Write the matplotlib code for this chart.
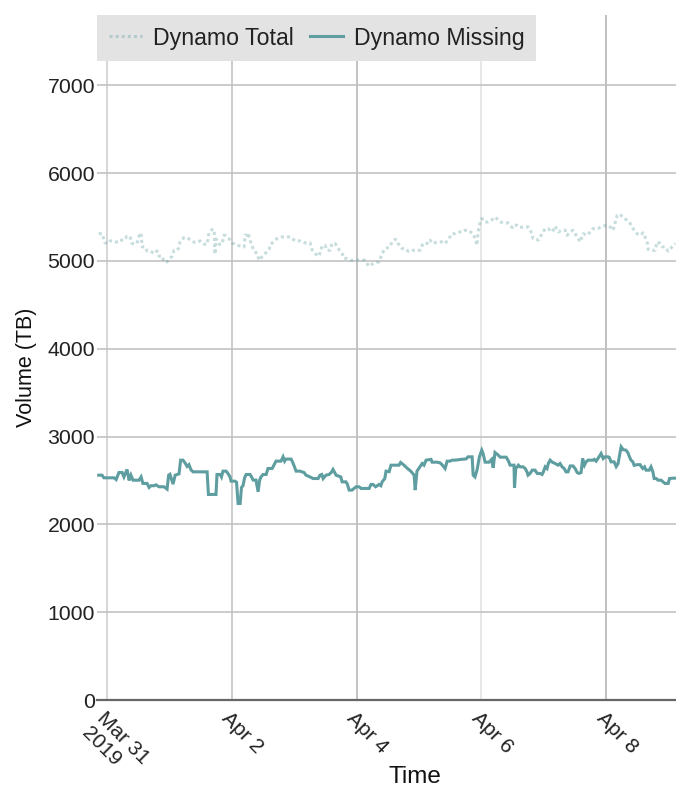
import matplotlib
matplotlib.use("Agg")
import matplotlib.pyplot as plt
import pandas as pd

# ---- data (hours after 2019-03-31 00:00, volume in TB) ----
total_hours = [-3.2, -1.9, -1.3, -0.8, 0.8, 1.2, 1.9, 3.1, 4.6, 5.0, 6.5, 7.7, 8.8, 9.6, 11.5, 12.3, 13.1, 13.5,
               14.6, 15.4, 16.5, 18.1, 19.2, 20.0, 21.2, 21.9, 23.1, 23.8, 25.0, 25.8, 26.9, 27.7, 28.1, 29.6,
               30.8, 31.9, 33.5, 34.6, 35.8, 37.3, 38.5, 39.2, 40.4, 41.2, 41.5, 41.9, 43.1, 44.2, 45.0, 45.4,
               46.9, 48.1, 50.0, 52.7, 53.1, 53.8, 54.2, 55.0, 55.4, 56.5, 57.7, 58.5, 59.6, 60.8, 62.3, 62.7,
               64.2, 65.4, 67.3, 70.4, 72.3, 74.2, 76.2, 78.1, 78.8, 80.0, 81.5, 82.7, 83.8, 84.6, 85.8, 86.5,
               87.7, 89.2, 90.4, 91.2, 92.3, 93.5, 95.4, 96.9, 99.2, 100.0, 100.8, 102.7, 104.6, 105.8, 106.9,
               108.8, 109.6, 110.8, 111.5, 111.9, 113.5, 114.6, 115.8, 117.3, 117.7, 120.4, 121.5, 123.1, 123.5,
               124.2, 125.4, 126.9, 128.8, 130.0, 131.2, 132.7, 133.8, 135.0, 136.9, 137.7, 138.8, 140.8, 141.5,
               142.3, 142.7, 143.5, 144.2, 145.4, 146.5, 148.1, 149.2, 151.2, 153.1, 154.2, 155.8, 156.2, 157.7,
               158.8, 160.0, 161.9, 163.5, 163.8, 164.6, 165.8, 167.3, 168.5, 169.6, 171.2, 172.3, 173.5, 175.0,
               176.2, 176.9, 178.1, 179.2, 180.8, 181.9, 183.1, 184.6, 185.8, 186.9, 188.8, 190.4, 192.3, 193.5,
               194.6, 196.2, 197.3, 198.5, 200.0, 201.2, 202.3, 203.8, 205.0, 206.2, 207.7, 208.1, 209.6, 210.8,
               211.5, 212.7, 213.5, 214.6, 215.8, 217.3, 218.5]
total_values = [5310, 5310, 5254, 5205, 5205, 5228, 5228, 5216, 5216, 5236, 5236, 5281, 5281, 5198, 5198, 5281, 5319, 5160,
                5160, 5114, 5114, 5084, 5114, 5053, 5053, 4989, 4989, 5015, 5053, 5121, 5121, 5152, 5216, 5266,
                5266, 5243, 5212, 5212, 5228, 5190, 5190, 5319, 5357, 5357, 5076, 5250, 5190, 5190, 5292, 5292,
                5254, 5205, 5178, 5160, 5292, 5292, 5319, 5240, 5198, 5114, 5084, 5008, 5046, 5084, 5129, 5178,
                5228, 5254, 5273, 5273, 5228, 5228, 5205, 5205, 5129, 5084, 5053, 5167, 5178, 5121, 5121, 5198,
                5198, 5129, 5084, 5027, 5027, 5008, 5008, 5008, 5008, 4970, 4939, 4978, 4989, 5084, 5140,
                5160, 5216, 5245, 5236, 5198, 5140, 5140, 5110, 5110, 5121, 5121, 5198, 5198, 5236,
                5236, 5198, 5216, 5216, 5198, 5243, 5310, 5310, 5330, 5330, 5349, 5349, 5310, 5254,
                5178, 5330, 5444, 5482, 5440, 5444, 5470, 5500, 5444, 5433, 5433, 5380, 5406, 5406,
                5380, 5387, 5387, 5310, 5254, 5254, 5236, 5310, 5368, 5368, 5330, 5395, 5330, 5349,
                5349, 5292, 5330, 5349, 5273, 5216, 5310, 5292, 5330, 5368, 5368, 5395, 5406, 5387,
                5349, 5520, 5530, 5490, 5463, 5425, 5368, 5310, 5292, 5320, 5216, 5129, 5121, 5121,
                5216, 5198, 5160, 5160, 5110, 5160, 5198]

missing_hours = [-3.2, -1.9, -1.2, 2.7, 3.5, 4.6, 5.8, 6.5, 7.7, 8.5, 9.2, 10.0, 12.3, 13.1, 13.8, 15.4, 16.2, 16.9,
                 18.1, 18.8, 20.0, 21.9, 23.1, 23.7, 24.2, 25.4, 26.2, 27.7, 28.3, 29.2, 30.0, 30.8, 31.5, 32.3,
                 33.1, 38.5, 39.0, 40.8, 41.9, 42.3, 43.5, 44.0, 44.6, 45.8, 46.5, 47.3, 47.7, 49.2, 49.8, 50.4,
                 51.2, 51.7, 52.3, 52.9, 53.5, 55.0, 55.6, 56.2, 57.3, 58.1, 58.7, 59.2, 60.0, 61.2, 61.9, 63.5,
                 64.5, 65.0, 66.9, 67.7, 68.3, 68.8, 70.8, 71.5, 72.2, 72.7, 74.2, 75.8, 76.5, 78.1, 79.2, 81.2,
                 81.9, 82.6, 83.1, 84.2, 85.4, 86.2, 86.9, 88.1, 89.9, 90.4, 91.9, 92.4, 93.1, 94.2, 95.8, 96.9,
                 97.7, 100.8, 101.5, 102.3, 103.3, 104.6, 105.3, 105.8, 106.8, 107.3, 108.5, 109.2, 112.3, 112.9,
                 114.2, 115.4, 116.8, 118.1, 118.5, 119.2, 120.0, 121.2, 121.9, 122.7, 124.6, 125.0, 126.9, 128.1,
                 129.0, 130.0, 130.8, 131.9, 132.7, 133.8, 136.2, 138.1, 138.8, 140.4, 140.8, 141.5, 142.3, 143.2,
                 144.1, 144.6, 145.4, 146.9, 147.9, 148.5, 149.2, 150.4, 151.2, 153.5, 154.4, 155.0, 156.5, 156.7,
                 157.2, 158.2, 158.8, 160.0, 160.8, 161.5, 161.9, 162.7, 163.5, 164.6, 165.4, 166.5, 167.3, 167.8,
                 168.5, 169.2, 169.7, 170.4, 171.2, 172.3, 173.5, 174.2, 175.0, 175.8, 176.5, 177.3, 178.1, 179.2,
                 180.0, 180.8, 181.5, 182.3, 182.9, 183.6, 184.2, 185.0, 186.2, 186.9, 187.4, 188.1, 189.2, 190.0,
                 190.8, 191.5, 192.7, 193.2, 193.8, 195.0, 195.8, 196.5, 197.7, 198.5, 199.6, 200.4, 200.9, 201.5,
                 202.2, 202.7, 203.9, 205.0, 205.4, 206.0, 206.7, 207.3, 208.5, 209.2, 209.9, 210.4, 211.2, 211.9,
                 213.1, 213.8, 214.6, 215.8, 216.3, 217.7, 218.8]
missing_values = [2560, 2560, 2530, 2530, 2510, 2591, 2591, 2540, 2625, 2500, 2560, 2503, 2503, 2540, 2466, 2466, 2420, 2440,
                  2440, 2450, 2428, 2428, 2401, 2560, 2570, 2458, 2560, 2575, 2731, 2731, 2700, 2660, 2680, 2620,
                  2598, 2598, 2340, 2341, 2340, 2568, 2568, 2540, 2606, 2606, 2580, 2540, 2492, 2492, 2480, 2238,
                  2238, 2420, 2440, 2530, 2568, 2568, 2540, 2504, 2504, 2371, 2504, 2540, 2568, 2568, 2636, 2636,
                  2693, 2720, 2720, 2769, 2720, 2743, 2743, 2700, 2645, 2606, 2606, 2590, 2560, 2540, 2522, 2522,
                  2560, 2568, 2522, 2560, 2568, 2590, 2625, 2560, 2540, 2484, 2484, 2460, 2390, 2390, 2428, 2428,
                  2409, 2409, 2454, 2454, 2428, 2454, 2440, 2484, 2520, 2606, 2600, 2674, 2674, 2705,
                  2674, 2640, 2606, 2560, 2390, 2606, 2640, 2693, 2674, 2731, 2740, 2708, 2708, 2700,
                  2674, 2636, 2720, 2720, 2731, 2731, 2740, 2745, 2769, 2769, 2560, 2540, 2620, 2769,
                  2845, 2808, 2708, 2708, 2740, 2645, 2818, 2790, 2765, 2765, 2720, 2674, 2674, 2416,
                  2636, 2674, 2655, 2655, 2636, 2598, 2560, 2580, 2617, 2617, 2580, 2580, 2568, 2598,
                  2655, 2636, 2693, 2731, 2708, 2693, 2674, 2693, 2655, 2636, 2598, 2598, 2665, 2665,
                  2636, 2590, 2580, 2590, 2750, 2674, 2710, 2731, 2731, 2731, 2740, 2720, 2769, 2807,
                  2750, 2769, 2769, 2760, 2712, 2712, 2658, 2690, 2883, 2850, 2845, 2810, 2769, 2731,
                  2712, 2672, 2680, 2680, 2660, 2636, 2655, 2617, 2617, 2655, 2598, 2522, 2522, 2503,
                  2503, 2484, 2466, 2466, 2522, 2526, 2526]

series_names = ["Dynamo Total", "Dynamo Missing"]
tick_dates = ["2019-03-31", "2019-04-02", "2019-04-04", "2019-04-06", "2019-04-08"]
tick_labels = ["Mar 31\n2019", "Apr 2", "Apr 4", "Apr 6", "Apr 8"]
y_ticks = [0, 1000, 2000, 3000, 4000, 5000, 6000, 7000]

# ---- plotting ----
plt.rcParams["font.family"] = ["Liberation Sans", "DejaVu Sans"]
base = pd.Timestamp("2019-03-31")
t_total = base + pd.to_timedelta(total_hours, unit="h")
t_missing = base + pd.to_timedelta(missing_hours, unit="h")

fig = plt.figure(figsize=(6.76, 7.87), dpi=100)
ax = fig.add_axes([97 / 676, 87 / 787, 579 / 676, 685 / 787])

col = "#5f9ea0"
l1, = ax.plot(t_total, total_values, color=col, alpha=0.35, lw=2.2,
              linestyle=(0, (1.0, 1.0)), label=series_names[0])
l2, = ax.plot(t_missing, missing_values, color=col, lw=2.2, label=series_names[1],
              solid_joinstyle="miter")

ax.set_xlim(base - pd.Timedelta(hours=3.85), base + pd.Timedelta(hours=218.8))
ax.set_ylim(0, 7800)

ax.set_yticks(y_ticks)
ax.set_yticklabels([str(v) for v in y_ticks])
ax.set_xticks([pd.Timestamp(d) for d in tick_dates])
ax.set_xticklabels(tick_labels, rotation=-45, ha="left", va="top",
                   rotation_mode="anchor", ma="left")

for s in ["top", "right", "left"]:
    ax.spines[s].set_visible(False)
ax.spines["bottom"].set_color("#666666")
ax.spines["bottom"].set_linewidth(1.6)

ax.tick_params(axis="y", length=0, labelsize=15.3, labelcolor="#222222", pad=1.5)
ax.tick_params(axis="x", length=0, labelsize=15, labelcolor="#222222", pad=6)

ax.set_axisbelow(True)
ax.grid(axis="y", color="#c2c2c2", lw=1.2)
ax.grid(axis="x", lw=1.2)
vcols = ["#cfcfcf", "#c4c4c4", "#b9b9b9", "#e3e3e3", "#b5b5b5"]
for gl, c in zip(ax.get_xgridlines(), vcols):
    gl.set_color(c)

ax.set_ylabel("Volume (TB)", fontsize=15.5, color="#111111")
ax.yaxis.set_label_coords(-0.1036, 0.486)
ax.set_xlabel("Time", fontsize=17.5, color="#111111")
ax.xaxis.set_label_coords(0.549, -0.096)

leg = ax.legend(handles=[l1, l2], loc="upper left", bbox_to_anchor=(0, 1), ncol=2,
                fontsize=16.7, frameon=True, fancybox=False, borderaxespad=0,
                borderpad=0.5, handlelength=1.45, handletextpad=0.45,
                columnspacing=0.7)
leg.get_frame().set_facecolor("#e3e3e3")
leg.get_frame().set_edgecolor("none")
leg.get_frame().set_alpha(1)
for t in leg.get_texts():
    t.set_color("#222222")

fig.savefig("out.png", dpi=100)
